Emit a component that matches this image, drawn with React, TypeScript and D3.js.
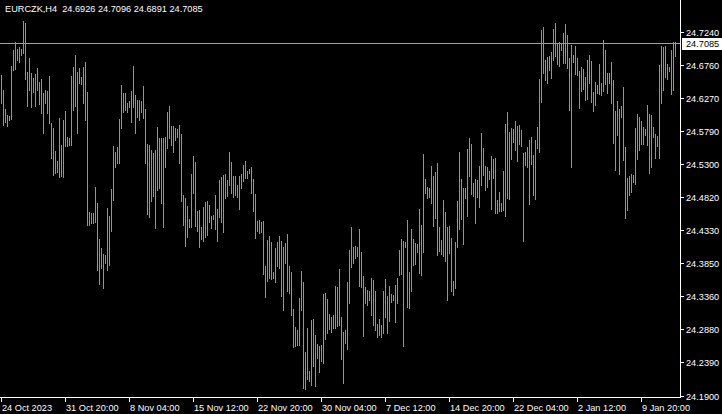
import React from "react";
import * as d3 from "d3";

const symbolTitle = "EURCZK,H4";
const lastBarOHLC = ["24.6926", "24.7096", "24.6891", "24.7085"];
const lastPrice = 24.7085;

const priceTickLabels = ["24.7240", "24.6760", "24.6270", "24.5790", "24.5300", "24.4820", "24.4330", "24.3850", "24.3360", "24.2880", "24.2390", "24.1900"];

const timeLabels = ["24 Oct 2023", "31 Oct 20:00", "8 Nov 04:00", "15 Nov 12:00", "22 Nov 20:00", "30 Nov 04:00", "7 Dec 12:00", "14 Dec 20:00", "22 Dec 04:00", "2 Jan 12:00", "9 Jan 20:00"];
const timeLabelBars = [0, 32, 64, 96, 128, 160, 192, 224, 256, 288, 320];

const highs = [
  24.6613, 24.6392, 24.6113, 24.6025, 24.6010, 24.6745, 24.6980, 24.7102, 24.6995, 24.7024,
  24.6995, 24.7406, 24.7373, 24.6661, 24.6867, 24.6638, 24.6564, 24.6628, 24.6711, 24.6514,
  24.6550, 24.6353, 24.6392, 24.6378, 24.6598, 24.5912, 24.5834, 24.5496, 24.5353, 24.5981,
  24.5584, 24.5952, 24.6088, 24.5697, 24.5687, 24.6598, 24.6735, 24.6907, 24.6661, 24.6711,
  24.6588, 24.6735, 24.6808, 24.6367, 24.4604, 24.4581, 24.4589, 24.4971, 24.4736, 24.4198,
  24.4066, 24.3982, 24.3968, 24.4654, 24.4541, 24.4938, 24.5570, 24.5486, 24.5559, 24.5966,
  24.6466, 24.6353, 24.6348, 24.6206, 24.6231, 24.6382, 24.6745, 24.6319, 24.6245, 24.6245,
  24.6231, 24.6451, 24.6109, 24.5599, 24.5584, 24.5511, 24.5467, 24.5511, 24.5844, 24.5691,
  24.5680, 24.5691, 24.5706, 24.6074, 24.6157, 24.5863, 24.5863, 24.5834, 24.5819, 24.5878,
  24.5746, 24.4849, 24.4810, 24.4688, 24.4497, 24.5158, 24.5423, 24.5339, 24.4614, 24.4629,
  24.4384, 24.4678, 24.4751, 24.4766, 24.4703, 24.4541, 24.4548, 24.4849, 24.4644, 24.5070,
  24.5118, 24.5143, 24.5158, 24.5070, 24.5486, 24.5339, 24.5133, 24.5129, 24.4996, 24.5133,
  24.5158, 24.5290, 24.5349, 24.5202, 24.5232, 24.5257, 24.5085, 24.4864, 24.4467, 24.4482,
  24.4448, 24.4467, 24.3806, 24.4188, 24.4247, 24.4163, 24.3718, 24.4071, 24.4163, 24.4247,
  24.4174, 24.4090, 24.4148, 24.4276, 24.3806, 24.3722, 24.3174, 24.2914, 24.2866, 24.3340,
  24.3733, 24.3575, 24.2547, 24.2899, 24.2263, 24.3013, 24.3027, 24.2792, 24.2660, 24.2635,
  24.2645, 24.3395, 24.3405, 24.3321, 24.3101, 24.3061, 24.3086, 24.3512, 24.3493, 24.3762,
  24.3061, 24.2841, 24.2866, 24.3575, 24.4041, 24.4384, 24.4090, 24.4100, 24.4085, 24.4350,
  24.4016, 24.3659, 24.3493, 24.3453, 24.3439, 24.3625, 24.3600, 24.3439, 24.2954, 24.3027,
  24.2939, 24.3439, 24.3615, 24.3365, 24.3512, 24.3390, 24.3380, 24.3527, 24.3625, 24.4041,
  24.4203, 24.4178, 24.4154, 24.4482, 24.3722, 24.4350, 24.4203, 24.4148, 24.4129, 24.4644,
  24.4409, 24.5452, 24.5085, 24.4963, 24.4952, 24.5276, 24.5129, 24.5192, 24.5324, 24.4384,
  24.4188, 24.4776, 24.4604, 24.4384, 24.4394, 24.4222, 24.3590, 24.4163, 24.4761, 24.5486,
  24.5085, 24.4957, 24.4957, 24.5525, 24.5691, 24.5599, 24.5030, 24.5085, 24.5070, 24.5276,
  24.5765, 24.5545, 24.5276, 24.5257, 24.5207, 24.5423, 24.5379, 24.5398, 24.4776, 24.4889,
  24.4736, 24.5202, 24.5893, 24.6069, 24.5780, 24.5838, 24.5819, 24.5937, 24.5863, 24.5878,
  24.5805, 24.5467, 24.5481, 24.5559, 24.5658, 24.5706, 24.5437, 24.5658, 24.5853, 24.6554,
  24.7274, 24.7323, 24.6833, 24.6882, 24.6896, 24.6955, 24.7289, 24.7373, 24.7079, 24.7093,
  24.7083, 24.7234, 24.7362, 24.7201, 24.6867, 24.7054, 24.6907, 24.7039, 24.6858, 24.6672,
  24.6735, 24.6697, 24.6588, 24.6833, 24.6907, 24.6819, 24.6367, 24.6506, 24.6466, 24.6775,
  24.6500, 24.7127, 24.6980, 24.6647, 24.6642, 24.6808, 24.6539, 24.6084, 24.6231, 24.6113,
  24.6157, 24.6432, 24.5559, 24.5095, 24.5129, 24.5158, 24.5143, 24.5838, 24.6040, 24.6000,
  24.5937, 24.5853, 24.5815, 24.6172, 24.6040, 24.6025, 24.5853, 24.5746, 24.5716, 24.6760,
  24.7039, 24.7024, 24.7039, 24.6775, 24.6735, 24.6980, 24.7093, 24.7096,
];

const lows = [
  24.6206, 24.5878, 24.5927, 24.5868, 24.5952, 24.5966, 24.6686, 24.6697, 24.6833, 24.6808,
  24.6907, 24.6941, 24.6550, 24.6157, 24.6392, 24.6143, 24.6367, 24.6157, 24.6392, 24.6187,
  24.6054, 24.5765, 24.6201, 24.6054, 24.5908, 24.5393, 24.5143, 24.5173, 24.5192, 24.5118,
  24.5129, 24.5118, 24.5570, 24.5570, 24.5584, 24.5584, 24.6099, 24.6157, 24.5765, 24.6491,
  24.6481, 24.6197, 24.5952, 24.4409, 24.4409, 24.4434, 24.4442, 24.4457, 24.3747, 24.3542,
  24.3772, 24.3487, 24.3855, 24.3747, 24.3821, 24.4325, 24.4776, 24.5265, 24.5324, 24.5324,
  24.5830, 24.6074, 24.6099, 24.6074, 24.6138, 24.5927, 24.6138, 24.5756, 24.6000, 24.5952,
  24.6074, 24.5977, 24.5324, 24.4570, 24.4531, 24.4766, 24.4835, 24.4369, 24.4923, 24.4952,
  24.4736, 24.4384, 24.5265, 24.5536, 24.5683, 24.5584, 24.5486, 24.5658, 24.5706, 24.5315,
  24.4766, 24.4409, 24.4104, 24.4237, 24.4384, 24.4384, 24.4883, 24.4394, 24.4325, 24.4090,
  24.4203, 24.4178, 24.4237, 24.4262, 24.4457, 24.4369, 24.4497, 24.4350, 24.4178, 24.4531,
  24.4457, 24.4310, 24.4810, 24.4835, 24.4996, 24.4883, 24.4825, 24.4849, 24.4825, 24.4644,
  24.4957, 24.5060, 24.5095, 24.5104, 24.5168, 24.4883, 24.4614, 24.4222, 24.4320, 24.4295,
  24.4310, 24.3689, 24.3355, 24.3590, 24.3634, 24.3611, 24.3625, 24.3575, 24.3806, 24.3772,
  24.3365, 24.3160, 24.3855, 24.3443, 24.3414, 24.3086, 24.2620, 24.2630, 24.2645, 24.2645,
  24.3160, 24.2018, 24.1999, 24.2146, 24.2116, 24.2057, 24.2337, 24.2047, 24.2450, 24.2253,
  24.2410, 24.2385, 24.2733, 24.2826, 24.2880, 24.2841, 24.2891, 24.2899, 24.2924, 24.2939,
  24.2435, 24.2091, 24.2679, 24.2586, 24.3267, 24.3796, 24.3855, 24.3919, 24.3958, 24.3512,
  24.3502, 24.2782, 24.3267, 24.3233, 24.3306, 24.3086, 24.2939, 24.2866, 24.2767, 24.2792,
  24.2763, 24.2826, 24.3061, 24.2817, 24.3002, 24.3282, 24.3306, 24.2988, 24.3258, 24.3674,
  24.3689, 24.2635, 24.4090, 24.3208, 24.3193, 24.3443, 24.3821, 24.3836, 24.4016, 24.3708,
  24.3674, 24.4016, 24.4883, 24.4810, 24.4825, 24.4736, 24.4398, 24.4516, 24.3968, 24.4027,
  24.3982, 24.3958, 24.3884, 24.3306, 24.4002, 24.3443, 24.3380, 24.3487, 24.4090, 24.4350,
  24.4497, 24.4125, 24.4810, 24.4545, 24.5133, 24.4864, 24.4839, 24.4442, 24.4825, 24.4678,
  24.4996, 24.5143, 24.4923, 24.4963, 24.5085, 24.4644, 24.5104, 24.4589, 24.4581, 24.4619,
  24.4614, 24.4622, 24.4541, 24.4805, 24.4791, 24.5378, 24.5621, 24.5511, 24.5349, 24.5599,
  24.5574, 24.4178, 24.5290, 24.5261, 24.4713, 24.5301, 24.4849, 24.4791, 24.5533, 24.5486,
  24.6221, 24.6638, 24.6539, 24.6491, 24.6686, 24.6573, 24.6833, 24.6896, 24.6770, 24.6750,
  24.6980, 24.6794, 24.6789, 24.6720, 24.6099, 24.5265, 24.6808, 24.6628, 24.6613, 24.6132,
  24.6382, 24.6403, 24.6245, 24.6260, 24.6500, 24.6221, 24.6088, 24.6172, 24.6344, 24.6334,
  24.6319, 24.6382, 24.6481, 24.6344, 24.6500, 24.6206, 24.5618, 24.5217, 24.5731, 24.5158,
  24.6000, 24.5364, 24.4516, 24.4629, 24.4849, 24.4898, 24.5045, 24.5011, 24.5378, 24.5511,
  24.5599, 24.5594, 24.5731, 24.5584, 24.5177, 24.5265, 24.5706, 24.5398, 24.5574, 24.5398,
  24.6206, 24.6392, 24.6588, 24.6554, 24.6676, 24.6334, 24.6392, 24.6891,
];

const W = 722;
const H = 414;
const axisX = 680;
const axisY = 397;
const FONT = "'Liberation Sans', Arial, sans-serif";
const BAR_COLOR = "#32dc1e";

export default function App() {
  const n = highs.length;
  const x = d3.scaleLinear().domain([0, n - 1]).range([1, 1 + 2 * (n - 1)]);
  const y = d3.scaleLinear().domain([24.19, 24.724]).range([395.7, 32.3]);

  const lastY = Math.round(y(lastPrice));

  return (
    <svg
      width={W}
      height={H}
      style={{ position: "absolute", left: 0, top: 0, display: "block", background: "#000" }}
      shapeRendering="crispEdges"
    >
      <rect x={0} y={0} width={W} height={H} fill="#000" />
      {/* price line */}
      <line x1={0} x2={axisX} y1={lastY + 0.5} y2={lastY + 0.5} stroke="#a0a0a0" strokeWidth={1} />
      {/* bars */}
      <g fill={BAR_COLOR}>
        {highs.map((h, i) => {
          const top = Math.round(y(h));
          const bot = Math.round(y(lows[i]));
          return <rect key={i} x={Math.round(x(i))} y={top} width={1} height={Math.max(1, bot - top + 1)} />;
        })}
      </g>
      {/* axes */}
      <line x1={axisX + 0.5} x2={axisX + 0.5} y1={0} y2={axisY + 1} stroke="#fff" strokeWidth={1} />
      <line x1={0} x2={axisX + 1} y1={axisY + 0.5} y2={axisY + 0.5} stroke="#fff" strokeWidth={1} />
      {/* price ticks */}
      <g fontFamily={FONT} fontSize={9.2} fill="#fff">
        {priceTickLabels.map((t) => {
          const py = Math.round(y(parseFloat(t)));
          return (
            <g key={t}>
              <line x1={axisX + 1} x2={axisX + 4} y1={py + 0.5} y2={py + 0.5} stroke="#fff" />
              <text x={axisX + 6} y={py + 3.5}>{t}</text>
            </g>
          );
        })}
      </g>
      {/* last price label */}
      <rect x={axisX + 2} y={lastY - 5} width={W - axisX - 2} height={12} fill="#fff" />
      <text x={axisX + 6} y={lastY + 4} fontFamily={FONT} fontSize={9.2} fill="#000">
        {lastPrice.toFixed(4)}
      </text>
      {/* time ticks */}
      <g fontFamily={FONT} fontSize={9.2} fill="#fff">
        {timeLabels.map((t, k) => {
          const tx = Math.round(x(timeLabelBars[k]));
          return (
            <g key={t}>
              <line x1={tx + 0.5} x2={tx + 0.5} y1={axisY + 1} y2={axisY + 5} stroke="#fff" />
              <text x={tx + 1} y={axisY + 13.5}>{t}</text>
            </g>
          );
        })}
      </g>
      {/* title */}
      <text x={5} y={12} fontFamily={FONT} fontSize={9.2} fill="#fff" xmlSpace="preserve">
        {symbolTitle + "  " + lastBarOHLC.join(" ")}
      </text>
    </svg>
  );
}
